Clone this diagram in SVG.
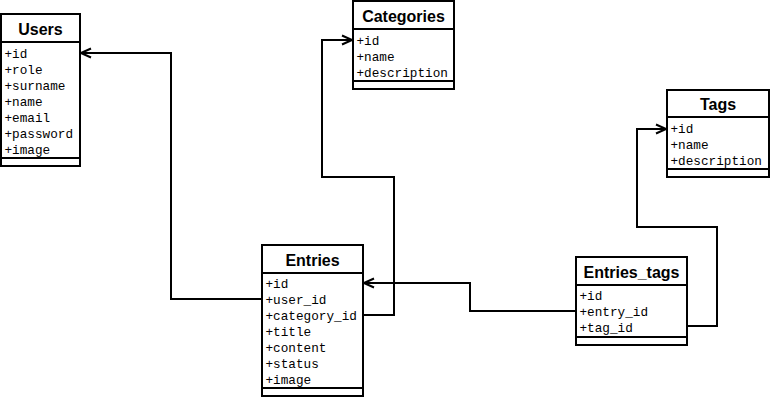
<svg xmlns="http://www.w3.org/2000/svg" width="772" height="400" viewBox="0 0 772 400">
<defs>
<style>
.box{fill:#fff;stroke:#000;stroke-width:2}
.sep{stroke:#000;stroke-width:2}
.title{font-family:"Liberation Sans",Arial,sans-serif;font-weight:bold;font-size:16px;text-anchor:middle;fill:#000}
.attr{font-family:"Liberation Mono","Courier New",monospace;font-size:12.7px;fill:#000}
.conn{fill:none;stroke:#000;stroke-width:2}
</style>
<marker id="open" markerWidth="14" markerHeight="12" refX="12" refY="6" orient="auto" markerUnits="userSpaceOnUse">
<path d="M2,1.5 L12,6 L2,10.5" fill="none" stroke="#000" stroke-width="2"/>
</marker>
</defs>
<rect width="772" height="400" fill="#fff"/>
<g id="connectors">
<path class="conn" d="M262,299 H171 V53 H81" marker-end="url(#open)"/>
<path class="conn" d="M364,315 H394 V177 H322 V40 H352" marker-end="url(#open)"/>
<path class="conn" d="M576,311 H470 V283 H364" marker-end="url(#open)"/>
<path class="conn" d="M687,326 H717 V227 H637 V129 H666" marker-end="url(#open)"/>
</g>
<g id="Users">
<rect class="box" x="1" y="14" width="79" height="152"/>
<line class="sep" x1="1" y1="42" x2="80" y2="42"/>
<line class="sep" x1="1" y1="158" x2="80" y2="158"/>
<text class="title" x="40.5" y="35">Users</text>
<text class="attr" x="4.5" y="58">+id</text>
<text class="attr" x="4.5" y="74">+role</text>
<text class="attr" x="4.5" y="90">+surname</text>
<text class="attr" x="4.5" y="106">+name</text>
<text class="attr" x="4.5" y="122">+email</text>
<text class="attr" x="4.5" y="138">+password</text>
<text class="attr" x="4.5" y="154">+image</text>
</g>
<g id="Categories">
<rect class="box" x="353" y="1" width="101" height="88"/>
<line class="sep" x1="353" y1="29" x2="454" y2="29"/>
<line class="sep" x1="353" y1="81" x2="454" y2="81"/>
<text class="title" x="403.5" y="22">Categories</text>
<text class="attr" x="356.5" y="45">+id</text>
<text class="attr" x="356.5" y="61">+name</text>
<text class="attr" x="356.5" y="77">+description</text>
</g>
<g id="Tags">
<rect class="box" x="667" y="90" width="102" height="87"/>
<line class="sep" x1="667" y1="117" x2="769" y2="117"/>
<line class="sep" x1="667" y1="169" x2="769" y2="169"/>
<text class="title" x="718" y="110">Tags</text>
<text class="attr" x="670.5" y="133">+id</text>
<text class="attr" x="670.5" y="149">+name</text>
<text class="attr" x="670.5" y="165">+description</text>
</g>
<g id="Entries">
<rect class="box" x="262" y="245" width="101" height="151"/>
<line class="sep" x1="262" y1="273" x2="363" y2="273"/>
<line class="sep" x1="262" y1="388" x2="363" y2="388"/>
<text class="title" x="312.5" y="266">Entries</text>
<text class="attr" x="265.5" y="288">+id</text>
<text class="attr" x="265.5" y="304">+user_id</text>
<text class="attr" x="265.5" y="320">+category_id</text>
<text class="attr" x="265.5" y="336">+title</text>
<text class="attr" x="265.5" y="352">+content</text>
<text class="attr" x="265.5" y="368">+status</text>
<text class="attr" x="265.5" y="384">+image</text>
</g>
<g id="Entries_tags">
<rect class="box" x="576" y="257" width="111" height="88"/>
<line class="sep" x1="576" y1="285" x2="687" y2="285"/>
<line class="sep" x1="576" y1="337" x2="687" y2="337"/>
<text class="title" x="631.5" y="278">Entries_tags</text>
<text class="attr" x="579.5" y="300">+id</text>
<text class="attr" x="579.5" y="316">+entry_id</text>
<text class="attr" x="579.5" y="332">+tag_id</text>
</g>
</svg>
